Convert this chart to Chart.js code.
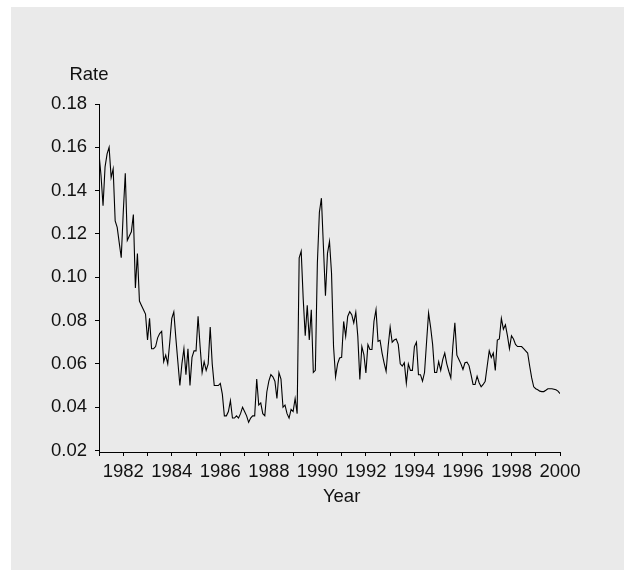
<!DOCTYPE html>
<html>
<head>
<meta charset="utf-8">
<script src="https://cdn.jsdelivr.net/npm/chart.js@4/dist/chart.umd.min.js"></script>
<style>
  html, body { margin: 0; padding: 0; background: #fff; }
  #chart { display: block; }
</style>
</head>
<body>
<canvas id="chart" width="628" height="571"></canvas>
<script>
// monthly rate, one array per year (Jan..Dec)
const r1981 = [0.157, 0.147, 0.133, 0.151, 0.157, 0.160, 0.146, 0.150, 0.126, 0.123, 0.116, 0.109];
const r1982 = [0.130, 0.148, 0.117, 0.119, 0.121, 0.129, 0.095, 0.111, 0.089, 0.087, 0.085, 0.083];
const r1983 = [0.071, 0.081, 0.067, 0.067, 0.068, 0.072, 0.074, 0.075, 0.061, 0.064, 0.060, 0.070];
const r1984 = [0.081, 0.084, 0.072, 0.061, 0.050, 0.060, 0.067, 0.055, 0.067, 0.050, 0.063, 0.066];
const r1985 = [0.066, 0.082, 0.068, 0.056, 0.061, 0.057, 0.060, 0.077, 0.060, 0.050, 0.050, 0.050];
const r1986 = [0.051, 0.046, 0.036, 0.036, 0.038, 0.043, 0.035, 0.035, 0.036, 0.035, 0.037, 0.040];
const r1987 = [0.038, 0.036, 0.033, 0.035, 0.036, 0.036, 0.053, 0.041, 0.042, 0.037, 0.036, 0.047];
const r1988 = [0.052, 0.055, 0.054, 0.052, 0.044, 0.056, 0.053, 0.040, 0.041, 0.037, 0.035, 0.039];
const r1989 = [0.038, 0.044, 0.037, 0.109, 0.112, 0.090, 0.073, 0.087, 0.071, 0.085, 0.056, 0.057];
const r1990 = [0.1065, 0.130, 0.1365, 0.114, 0.0915, 0.111, 0.1165, 0.102, 0.068, 0.054, 0.060, 0.0627];
const r1991 = [0.063, 0.0796, 0.0727, 0.0819, 0.0841, 0.0827, 0.0789, 0.0838, 0.0727, 0.0528, 0.068, 0.0643];
const r1992 = [0.0558, 0.0689, 0.0666, 0.0666, 0.0797, 0.085, 0.0704, 0.0709, 0.065, 0.0605, 0.0566, 0.068];
const r1993 = [0.077, 0.070, 0.071, 0.0715, 0.069, 0.060, 0.059, 0.0605, 0.051, 0.060, 0.057, 0.057];
const r1994 = [0.068, 0.070, 0.055, 0.055, 0.052, 0.056, 0.070, 0.0835, 0.077, 0.069, 0.056, 0.056];
const r1995 = [0.061, 0.057, 0.062, 0.065, 0.060, 0.0566, 0.0535, 0.068, 0.079, 0.064, 0.062, 0.060];
const r1996 = [0.0574, 0.0605, 0.0608, 0.0592, 0.055, 0.0505, 0.0505, 0.0543, 0.0513, 0.0494, 0.0505, 0.052];
const r1997 = [0.059, 0.066, 0.063, 0.065, 0.057, 0.071, 0.0715, 0.081, 0.076, 0.078, 0.073, 0.067];
const r1998 = [0.073, 0.0715, 0.069, 0.068, 0.068, 0.068, 0.067, 0.066, 0.065, 0.059, 0.0535, 0.0494];
const r1999 = [0.0485, 0.048, 0.0474, 0.0472, 0.0472, 0.0478, 0.0485, 0.0485, 0.0485, 0.0483, 0.048, 0.0474];
const r2000 = [0.0463];

const startYear = 1981;
const yearRows = [r1981, r1982, r1983, r1984, r1985, r1986, r1987, r1988, r1989, r1990,
                  r1991, r1992, r1993, r1994, r1995, r1996, r1997, r1998, r1999, r2000];

const yearTicks = [1981, 1982, 1983, 1984, 1985, 1986, 1987, 1988, 1989, 1990,
                   1991, 1992, 1993, 1994, 1995, 1996, 1997, 1998, 1999, 2000];
const rateTicks = [0.02, 0.04, 0.06, 0.08, 0.10, 0.12, 0.14, 0.16, 0.18];

const points = [];
yearRows.forEach((row, i) => {
  row.forEach((v, m) => points.push({ x: startYear + i + m / 12, y: v }));
});

const FONT = { family: "'Liberation Sans', Arial, sans-serif", size: 18.5 };

// grey panel behind the chart and the two axis titles
const panel = {
  id: 'panel',
  beforeDraw(chart) {
    const ctx = chart.ctx;
    ctx.save();
    ctx.fillStyle = '#eaeaea';
    ctx.fillRect(11, 7, 613, 563);
    ctx.restore();
  },
  afterDraw(chart) {
    const ctx = chart.ctx;
    const xs = chart.scales.x;
    ctx.save();
    ctx.fillStyle = '#111';
    ctx.font = `${FONT.size}px ${FONT.family}`;
    ctx.textAlign = 'center';
    ctx.textBaseline = 'middle';
    ctx.fillText('Rate', 89, 75);
    ctx.fillText('Year', xs.getPixelForValue(1991), 497);
    ctx.restore();
  }
};

new Chart(document.getElementById('chart'), {
  type: 'line',
  data: {
    datasets: [{
      data: points,
      borderColor: '#000',
      borderWidth: 1.1,
      pointRadius: 0,
      tension: 0,
      fill: false
    }]
  },
  options: {
    responsive: false,
    animation: false,
    devicePixelRatio: 1,
    layout: { padding: { top: 104, right: 68, bottom: 0, left: 0 } },
    plugins: { legend: { display: false }, tooltip: { enabled: false } },
    scales: {
      x: {
        type: 'linear',
        min: 1981,
        max: 2000,
        afterFit: s => { s.height = 119; },
        afterBuildTicks: s => { s.ticks = yearTicks.map(v => ({ value: v })); },
        grid: { drawOnChartArea: false, drawTicks: true, tickLength: 4, color: '#000' },
        border: { display: true, color: '#000', width: 1 },
        ticks: {
          autoSkip: false,
          maxRotation: 0,
          padding: 5,
          color: '#111',
          font: FONT,
          callback: v => (v % 2 === 0 ? String(v) : '')
        }
      },
      y: {
        min: 0.0193,
        max: 0.18,
        afterFit: s => { s.width = 99; },
        afterBuildTicks: s => { s.ticks = rateTicks.map(v => ({ value: v })); },
        grid: { drawOnChartArea: false, drawTicks: true, tickLength: 4, color: '#000' },
        border: { display: true, color: '#000', width: 1 },
        ticks: {
          padding: 8,
          color: '#111',
          font: FONT,
          callback: v => v.toFixed(2)
        }
      }
    }
  },
  plugins: [panel]
});
</script>
</body>
</html>
